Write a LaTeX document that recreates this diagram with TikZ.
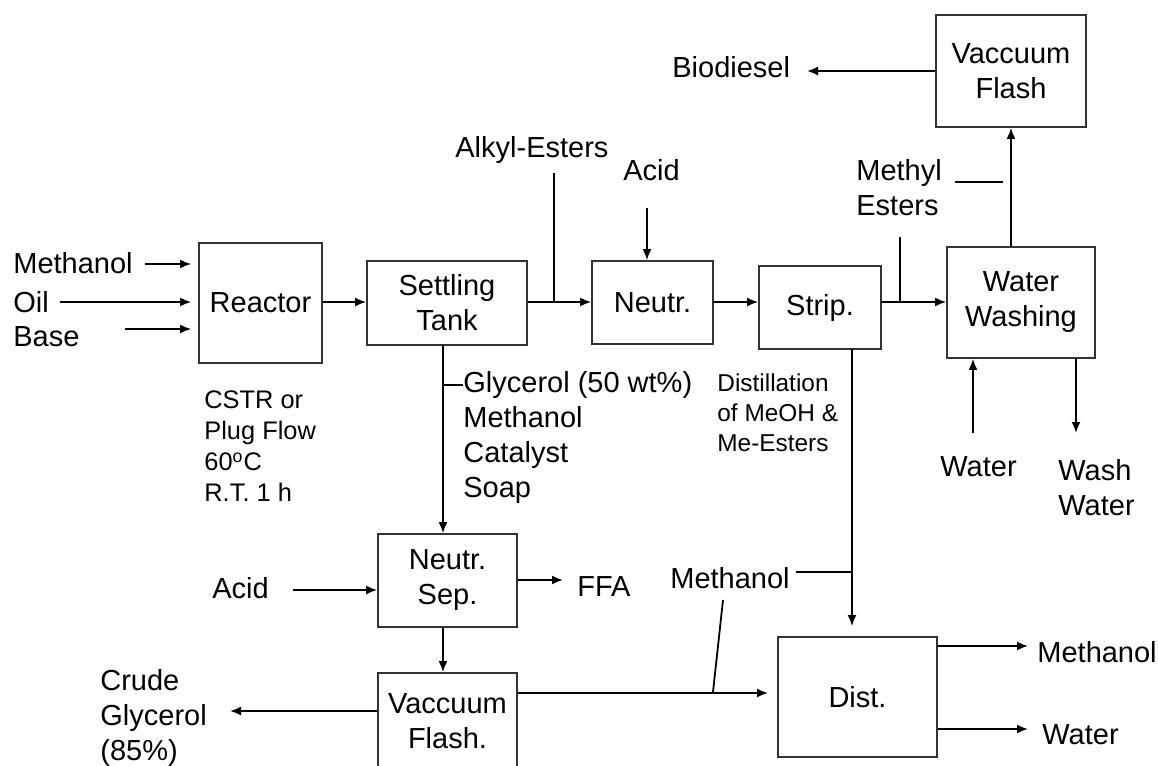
\documentclass[tikz,border=0pt]{standalone}
\usepackage{fontspec}
\setmainfont{Liberation Sans}
\usetikzlibrary{arrows.meta}

\newcommand{\mainsize}{\fontsize{14.5}{17.5}\selectfont}
\newcommand{\notesize}{\fontsize{12.7}{15.5}\selectfont}
\newcommand{\distsize}{\fontsize{12.2}{15}\selectfont}

\tikzset{
  unit/.style={draw=black!80, line width=0.9pt, align=center, inner sep=0pt},
  lbl/.style={anchor=west, inner sep=0pt, align=left},
  flow/.style={line width=0.9pt, -{Latex[length=5.5pt,width=4.5pt]}},
  pipe/.style={line width=0.9pt},
}

\begin{document}
\begin{tikzpicture}[x=0.5pt, y=-0.5pt, font=\mainsize]
    \clip (0,0) rectangle (1158,766);

    % process units
    \node[unit, minimum width=61.5pt, minimum height=60pt] (reactor) at (260.5,303) {Reactor};
    \node[unit, minimum width=80pt, minimum height=42pt] (settle) at (447,303) {Settling\\Tank};
    \node[unit, minimum width=60.5pt, minimum height=41.5pt] (neutr) at (652.5,302.5) {Neutr.};
    \node[unit, minimum width=61pt, minimum height=41.5pt] (strip) at (820,307.5) {Strip.};
    \node[unit, minimum width=74pt, minimum height=55.5pt] (wash) at (1021,302.5) {Water\\Washing};
    \node[unit, minimum width=75pt, minimum height=56pt] (vflash) at (1011,71) {Vaccuum\\Flash};
    \node[unit, minimum width=69.5pt, minimum height=46.5pt] (nsep) at (447.5,580.5) {Neutr.\\Sep.};
    \node[unit, minimum width=69.5pt, minimum height=48.5pt] (gflash) at (447.5,721.5) {Vaccuum\\Flash.};
    \node[unit, minimum width=79.5pt, minimum height=60pt] (dist) at (857.5,697) {Dist.};

    % stream labels
    \node[lbl] (methIn) at (13,263) {Methanol};
    \node[lbl] (oilIn) at (13,302) {Oil};
    \node[lbl] (baseIn) at (13,337) {Base};
    \node[lbl, font=\notesize] (cstr) at (204,446.5) {CSTR or\\Plug Flow\\60\textsuperscript{o}C\\R.T. 1 h};
    \node[lbl] (alkyl) at (455,150) {Alkyl-Esters};
    \node[lbl] (acidTop) at (623,170) {Acid};
    \node[lbl] (glycLbl) at (463,437) {Glycerol (50 wt\%)\\Methanol\\Catalyst\\Soap};
    \node[lbl, font=\distsize] (distil) at (717,412.5) {Distillation\\of MeOH \&\\Me-Esters};
    \node[lbl] (bio) at (672,67) {Biodiesel};
    \node[lbl] (mest) at (856,187.5) {Methyl\\Esters};
    \node[lbl] (waterIn) at (940,467) {Water};
    \node[lbl] (washOut) at (1058,487.5) {Wash\\Water};
    \node[lbl] (acidLeft) at (212,588) {Acid};
    \node[lbl] (ffa) at (577,587) {FFA};
    \node[lbl] (methMid) at (670,578) {Methanol};
    \node[lbl] (crude) at (100,717.5) {Crude\\Glycerol\\(85\%)};
    \node[lbl] (methOut) at (1037,652) {Methanol};
    \node[lbl] (waterOut) at (1042,735) {Water};

    % free ends of streams
    \coordinate (methStart) at (145,264);
    \coordinate (oilStart) at (60,302);
    \coordinate (baseStart) at (125,329);
    \coordinate (alkTop) at (554,173);
    \coordinate (acidStart) at (647,208);
    \coordinate (mestTop) at (900,237);
    \coordinate (mtickA) at (955,182);
    \coordinate (mtickB) at (1003,182);
    \coordinate (bioEnd) at (807,71);
    \coordinate (waterStart) at (973,433);
    \coordinate (washEnd) at (1076,433);
    \coordinate (glycDown) at (443,345);
    \coordinate (glycTick) at (463,385);
    \coordinate (acidLStart) at (293,590);
    \coordinate (ffaEnd) at (563,580);
    \coordinate (crudeEnd) at (230,711);
    \coordinate (distIn) at (768,693);
    \coordinate (slantA) at (723,600);
    \coordinate (slantB) at (713,692);
    \coordinate (stripDown) at (852,349);
    \coordinate (methTee) at (796,572);
    \coordinate (methOutEnd) at (1028,646);
    \coordinate (waterOutEnd) at (1028,729);

    % feeds to reactor
    \draw[flow, shorten >=3.5pt] (methStart) -- (methStart -| reactor.west);
    \draw[flow, shorten >=3.5pt] (oilStart) -- (oilStart -| reactor.west);
    \draw[flow, shorten >=3.5pt] (baseStart) -- (baseStart -| reactor.west);

    % main line
    \draw[flow] (reactor.east |- oilStart) -- (settle.west |- oilStart);
    \draw[flow] (settle.east |- oilStart) -- (neutr.west |- oilStart);
    \draw[pipe] (alkTop) -- (alkTop |- oilStart);
    \draw[flow] (acidStart) -- (acidStart |- neutr.north);
    \draw[flow] (neutr.east |- oilStart) -- (strip.west |- oilStart);
    \draw[flow] (strip.east |- oilStart) -- (wash.west |- oilStart);
    \draw[pipe] (mestTop) -- (mestTop |- oilStart);
    \draw[pipe] (mtickA) -- (mtickB);
    \draw[flow] (wash.north -| vflash.south) -- (vflash.south);
    \draw[flow] (vflash.west) -- (bioEnd);
    \draw[flow] (waterStart) -- (waterStart |- wash.south);
    \draw[flow] (wash.south -| washEnd) -- (washEnd);

    % glycerol side
    \draw[flow] (glycDown) -- (glycDown |- nsep.north);
    \draw[pipe] (glycDown |- glycTick) -- (glycTick);
    \draw[flow] (acidLStart) -- (acidLStart -| nsep.west);
    \draw[flow] (nsep.east |- ffaEnd) -- (ffaEnd);
    \draw[flow] (nsep.south -| glycDown) -- (gflash.north -| glycDown);
    \draw[flow] (gflash.west |- crudeEnd) -- (crudeEnd);
    \draw[flow] (gflash.east |- distIn) -- (distIn);
    \draw[pipe] (slantA) -- (slantB);

    % methanol recovery
    \draw[flow, shorten >=5pt] (stripDown) -- (stripDown |- dist.north);
    \draw[pipe] (methTee) -- (methTee -| stripDown);
    \draw[flow] (dist.east |- methOutEnd) -- (methOutEnd);
    \draw[flow] (dist.east |- waterOutEnd) -- (waterOutEnd);
\end{tikzpicture}
\end{document}
